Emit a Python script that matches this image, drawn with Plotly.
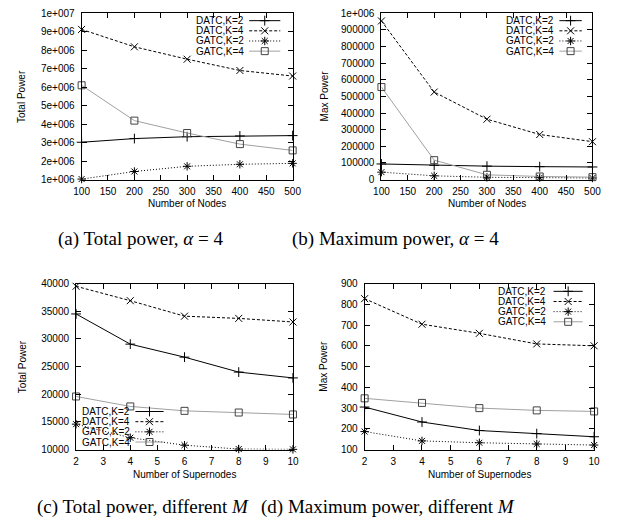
import plotly.graph_objects as go

W, H = 618, 525

# ---------------- data ----------------
series_names = ["DATC,K=2", "DATC,K=4", "GATC,K=2", "GATC,K=4"]

nodes = [100, 200, 300, 400, 500]
supernodes = [2, 4, 6, 8, 10]

# (a) total power vs number of nodes
a_datc_k2 = [3.02e6, 3.22e6, 3.32e6, 3.36e6, 3.38e6]
a_datc_k4 = [9.12e6, 8.18e6, 7.51e6, 6.90e6, 6.60e6]
a_gatc_k2 = [1.03e6, 1.44e6, 1.72e6, 1.83e6, 1.88e6]
a_gatc_k4 = [6.10e6, 4.19e6, 3.52e6, 2.92e6, 2.58e6]

# (b) max power vs number of nodes
b_datc_k2 = [94000, 86000, 81000, 78000, 76000]
b_datc_k4 = [953000, 526000, 363000, 271000, 228000]
b_gatc_k2 = [45000, 23000, 14000, 12000, 10000]
b_gatc_k4 = [556000, 117000, 29000, 19000, 15000]

# (c) total power vs number of supernodes
c_datc_k2 = [34500, 29050, 26700, 24000, 22950]
c_datc_k4 = [39500, 36900, 34100, 33700, 33050]
c_gatc_k2 = [14600, 12150, 10800, 10100, 10050]
c_gatc_k4 = [19600, 17800, 17000, 16700, 16350]

# (d) max power vs number of supernodes
d_datc_k2 = [305, 233, 192, 177, 162]
d_datc_k4 = [827, 704, 660, 609, 600]
d_gatc_k2 = [187, 142, 133, 127, 122]
d_gatc_k4 = [347, 325, 300, 289, 284]

a_yticks = [1e6 * i for i in range(1, 11)]
a_yticktext = ["1e+006", "2e+006", "3e+006", "4e+006", "5e+006",
               "6e+006", "7e+006", "8e+006", "9e+006", "1e+007"]
b_yticks = [100000 * i for i in range(0, 11)]
b_yticktext = ["0", "100000", "200000", "300000", "400000", "500000",
               "600000", "700000", "800000", "900000", "1e+006"]
c_yticks = [10000, 15000, 20000, 25000, 30000, 35000, 40000]
d_yticks = [100, 200, 300, 400, 500, 600, 700, 800, 900]
nodes_ticks = [100, 150, 200, 250, 300, 350, 400, 450, 500]
super_ticks = [2, 3, 4, 5, 6, 7, 8, 9, 10]

captions = ["(a) Total power, <i>α</i> = 4",
            "(b) Maximum power, <i>α</i> = 4",
            "(c) Total power, different <i>M</i>",
            "(d) Maximum power, different <i>M</i>"]

# ---------------- styles ----------------
MK = "black"
styles = [
    dict(line=dict(color="black", width=1, dash="solid"),
         marker=dict(symbol="cross-thin-open", size=7, color=MK, line=dict(color=MK, width=1))),
    dict(line=dict(color="black", width=1, dash="3px,2px"),
         marker=dict(symbol="x-thin-open", size=7, color=MK, line=dict(color=MK, width=1))),
    dict(line=dict(color="black", width=1, dash="1px,2px"),
         marker=dict(symbol="asterisk-open", size=7, color=MK, line=dict(color=MK, width=1))),
    dict(line=dict(color="#a0a0a0", width=1, dash="solid"),
         marker=dict(symbol="square-open", size=7, color="#444444", line=dict(color="#444444", width=1))),
]

def fx(px):
    return px / W

def fy(py):
    return 1 - py / H

FONT = "Liberation Sans, Arial, Helvetica, sans-serif"
SERIF = "Liberation Serif, Times New Roman, serif"

panels = [
    dict(x=nodes, ys=[a_datc_k2, a_datc_k4, a_gatc_k2, a_gatc_k4],
         dom_x=(75.7, 292.7), dom_y=(7.3, 177.7), xr=[100, 500], yr=[1e6, 1e7],
         xt=nodes_ticks, yt=a_yticks, ytt=a_yticktext,
         ytitle="Total Power", xtitle="Number of Nodes", ytx=14, xty=202,
         leg_right=245, leg_s=(248, 280), leg_y0=15, cap=(136, 238)),
    dict(x=nodes, ys=[b_datc_k2, b_datc_k4, b_gatc_k2, b_gatc_k4],
         dom_x=(384, 601), dom_y=(7.3, 177.7), xr=[100, 500], yr=[0, 1e6],
         xt=nodes_ticks, yt=b_yticks, ytt=b_yticktext,
         ytitle="Max Power", xtitle="Number of Nodes", ytx=325, xty=202,
         leg_right=564, leg_s=(567, 590), leg_y0=15, cap=(398, 238)),
    dict(x=supernodes, ys=[c_datc_k2, c_datc_k4, c_gatc_k2, c_gatc_k4],
         dom_x=(70, 293), dom_y=(284, 454), xr=[2, 10], yr=[10000, 40000],
         xt=super_ticks, yt=c_yticks, ytt=[str(v) for v in c_yticks],
         ytitle="Total Power", xtitle="Number of Supernodes", ytx=15, xty=479,
         leg_right=128, leg_s=(131, 160), leg_y0=415, cap=(139, 513)),
    dict(x=supernodes, ys=[d_datc_k2, d_datc_k4, d_gatc_k2, d_gatc_k4],
         dom_x=(366.7, 602.7), dom_y=(284, 454), xr=[2, 10], yr=[100, 900],
         xt=super_ticks, yt=d_yticks, ytt=[str(v) for v in d_yticks],
         ytitle="Max Power", xtitle="Number of Supernodes", ytx=325, xty=479,
         leg_right=555, leg_s=(561, 591), leg_y0=292, cap=(391, 513)),
]

fig = go.Figure()
layout = {}
annotations = []
ROW = 10.4

for i, p in enumerate(panels):
    n = "" if i == 0 else str(i + 1)
    xa, ya = "x" + n, "y" + n
    for s, ys in enumerate(p["ys"]):
        st = styles[s]
        fig.add_trace(go.Scatter(x=p["x"], y=ys, mode="lines+markers", name=series_names[s],
                                 line=st["line"], marker=st["marker"], xaxis=xa, yaxis=ya,
                                 showlegend=False, cliponaxis=False))
    common = dict(showline=True, linecolor="black", linewidth=1, mirror="ticks",
                  ticks="inside", ticklen=5, tickcolor="black", tickwidth=1,
                  showgrid=False, zeroline=False,
                  tickfont=dict(family=FONT, size=10, color="black"))
    layout["xaxis" + n] = dict(domain=[fx(p["dom_x"][0]), fx(p["dom_x"][1])], range=p["xr"],
                               anchor=ya, tickvals=p["xt"], ticktext=[str(v) for v in p["xt"]],
                               ticklabelstandoff=2, **common)
    layout["yaxis" + n] = dict(domain=[fy(p["dom_y"][1]), fy(p["dom_y"][0])], range=p["yr"],
                               anchor=xa, tickvals=p["yt"], ticktext=p["ytt"],
                               ticklabelstandoff=4, **common)
    # axis titles
    cx = (p["dom_x"][0] + p["dom_x"][1]) / 2
    cy = (p["dom_y"][0] + p["dom_y"][1]) / 2
    annotations.append(dict(text=p["xtitle"], x=fx(cx), y=fy(p["xty"]), xref="paper", yref="paper",
                            showarrow=False, xanchor="center", yanchor="middle",
                            font=dict(family=FONT, size=10, color="black")))
    annotations.append(dict(text=p["ytitle"], x=fx(p["ytx"]), y=fy(cy), xref="paper", yref="paper",
                            showarrow=False, xanchor="center", yanchor="middle", textangle=-90,
                            font=dict(family=FONT, size=10, color="black")))
    # caption
    annotations.append(dict(text=captions[i], x=fx(p["cap"][0]), y=fy(p["cap"][1]),
                            xref="paper", yref="paper", showarrow=False,
                            xanchor="center", yanchor="middle",
                            font=dict(family=SERIF, size=19, color="black")))
    # legend (gnuplot style: text then sample)
    for s in range(4):
        yy = p["leg_y0"] + s * ROW
        annotations.append(dict(text=series_names[s], x=fx(p["leg_right"]), y=fy(yy),
                                xref="paper", yref="paper", showarrow=False,
                                xanchor="right", yanchor="middle",
                                font=dict(family=FONT, size=10, color="black")))
        st = styles[s]
        x0, x1 = p["leg_s"]
        fig.add_trace(go.Scatter(x=[x0, x1], y=[yy, yy], mode="lines", line=st["line"],
                                 xaxis="x5", yaxis="y5", showlegend=False, hoverinfo="skip"))
        fig.add_trace(go.Scatter(x=[(x0 + x1) / 2], y=[yy], mode="markers", marker=st["marker"],
                                 xaxis="x5", yaxis="y5", showlegend=False, hoverinfo="skip"))

layout["xaxis5"] = dict(domain=[0, 1], range=[0, W], visible=False, anchor="y5", fixedrange=True)
layout["yaxis5"] = dict(domain=[0, 1], range=[H, 0], visible=False, anchor="x5", fixedrange=True)

fig.update_layout(width=W, height=H, margin=dict(l=0, r=0, t=0, b=0),
                  paper_bgcolor="white", plot_bgcolor="rgba(0,0,0,0)",
                  showlegend=False, annotations=annotations, **layout)

fig.write_html("out.html", config={"displayModeBar": False},
               post_script="document.body.style.margin='0px';document.body.style.overflow='hidden';")
